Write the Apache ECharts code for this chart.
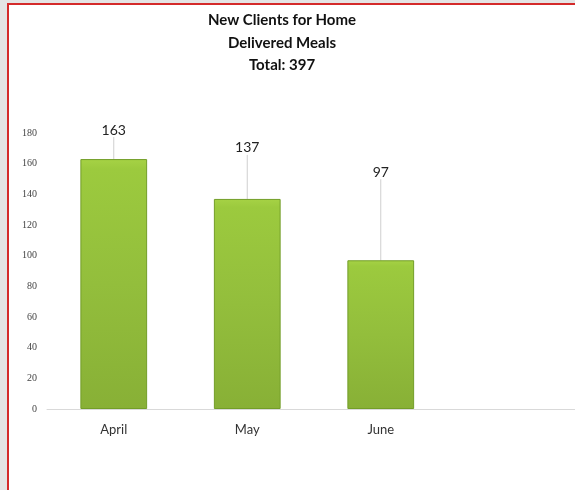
<!DOCTYPE html>
<html>
<head>
<meta charset="utf-8">
<script src="https://cdn.jsdelivr.net/npm/echarts@6/dist/echarts.min.js"></script>
<style>
  html, body { margin: 0; padding: 0; width: 575px; height: 490px; background: #e4e4e4; overflow: hidden; }
  #frame { position: absolute; left: 7px; top: 3px; width: 568px; height: 487px; background: #ffffff;
           border-left: 2px solid #d42a2a; border-top: 2px solid #d42a2a; box-sizing: border-box; }
  #chart { position: absolute; left: 0; top: 0; width: 620px; height: 490px; }
</style>
</head>
<body>
<div id="frame"></div>
<div id="chart"></div>
<script>
const categories = ['April', 'May', 'June', ''];
const newClients = [163, 137, 97, null];
const titleLines = ['New Clients for Home', 'Delivered Meals', 'Total: 397'];
const yTicks = { min: 0, max: 180, interval: 20 };

// label lift (px) – style only, matching the hand-placed labels
const labelLift = [-17, -39, -76];

const chart = echarts.init(document.getElementById('chart'), null, { renderer: 'canvas' });
chart.setOption({
  backgroundColor: 'transparent',
  animation: false,
  title: {
    text: titleLines.join('\n'),
    left: 277, top: 4, textAlign: 'center',
    textStyle: { fontFamily: 'Lato, "Open Sans", sans-serif', fontWeight: 'bold', fontSize: 15, color: '#111', lineHeight: 22.5 }
  },
  grid: { left: 47, top: 133, width: 534, height: 276 },
  xAxis: {
    type: 'category',
    data: categories,
    axisLine: { show: true, lineStyle: { color: '#d9d9d9', width: 1 } },
    axisTick: { show: false },
    axisLabel: { color: '#333', fontSize: 13, fontFamily: 'Lato, "Open Sans", sans-serif', margin: 14 }
  },
  yAxis: {
    type: 'value',
    min: yTicks.min, max: yTicks.max, interval: yTicks.interval,
    axisLine: { show: false },
    axisTick: { show: false },
    splitLine: { show: false },
    axisLabel: { color: '#444', fontSize: 10, fontFamily: '"Liberation Serif", "DejaVu Serif", serif', margin: 10 }
  },
  series: [{
    type: 'bar',
    data: newClients,
    barWidth: '50%',
    itemStyle: {
      color: new echarts.graphic.LinearGradient(0, 0, 0, 1, [
        { offset: 0, color: '#a6d245' },
        { offset: 0.04, color: '#9cca3e' },
        { offset: 0.5, color: '#93be3c' },
        { offset: 1, color: '#88b036' }
      ]),
      borderColor: '#739e28',
      borderWidth: 1
    },
    label: {
      show: true, position: 'top', distance: 5,
      color: '#222', fontSize: 14, fontFamily: 'Lato, "Open Sans", sans-serif'
    },
    labelLayout: function (p) { return { dy: labelLift[p.dataIndex] || 0 }; },
    labelLine: { show: true, lineStyle: { color: '#cfcfcf', width: 1 } }
  }]
});
</script>
</body>
</html>
